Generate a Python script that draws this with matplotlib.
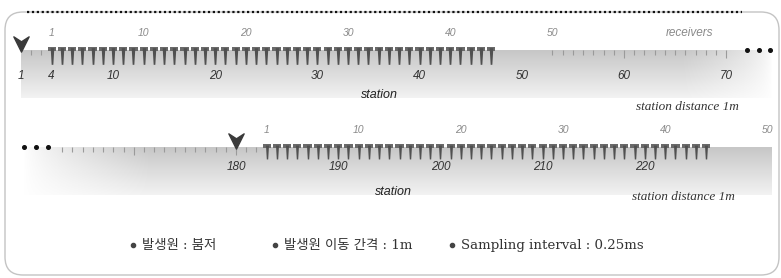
import numpy as np
import matplotlib.pyplot as plt
from matplotlib.patches import FancyBboxPatch
from matplotlib.path import Path

# layout data
recv_offset = 3            # receiver 1 sits 3 stations ahead of the source
n_active = 44              # receivers drawn as geophones

top_source = 1
top_station_labels = [1, 4, 10, 20, 30, 40, 50, 60, 70]
top_recv_labels = [1, 10, 20, 30, 40, 50]
top_minor = [2, 3] + list(range(53, 71))

bot_source = 180
bot_station_labels = [180, 190, 200, 210, 220]
bot_recv_labels = [1, 10, 20, 30, 40, 50]
bot_minor = list(range(163, 183))

notes = ["발생원 : 붐저", "발생원 이동 간격 : 1m", "Sampling interval : 0.25ms"]

PX = 10.22  # pixels per station
W, H = 781, 278

fig = plt.figure(figsize=(W / 100, H / 100), dpi=100)
ax0 = fig.add_axes([0, 0, 1, 1])
ax0.set_xlim(0, W)
ax0.set_ylim(H, 0)
ax0.axis("off")


def panel_axes(st, px):
    ax = fig.add_axes([0, 0, 1, 1])
    ax.set_xlim(st - px / PX, st + (W - px) / PX)
    ax.set_ylim(H, 0)
    ax.axis("off")
    ax.patch.set_alpha(0)
    return ax


arrow = Path([(-1, 1), (0, -1), (1, 1), (0, 0.35), (-1, 1)],
             [Path.MOVETO, Path.LINETO, Path.LINETO, Path.LINETO, Path.CLOSEPOLY])
# thin tapered spike of a geophone (top wide, bottom narrow)
spike = Path([(-0.22, 1), (0.22, 1), (0.1, -1), (-0.1, -1), (-0.22, 1)],
             [Path.MOVETO, Path.LINETO, Path.LINETO, Path.LINETO, Path.CLOSEPOLY])


def band(ax, s0, s1, y0, y1, fade_left=0.0, fade_right=0.0):
    nx, ny = 400, 60
    t = np.linspace(0, 1, ny)[:, None]
    g = 0.78 + 0.17 * t
    u = np.linspace(0, 1, nx)[None, :]
    a = np.ones((ny, nx))
    if fade_left:
        a *= np.clip(u / fade_left, 0, 1) ** 0.8
    if fade_right:
        a *= np.clip((1 - u) / fade_right, 0, 1) ** 0.6
    img = np.zeros((ny, nx, 4))
    img[..., 0] = img[..., 1] = img[..., 2] = g * np.ones((1, nx))
    img[..., 3] = a
    ax.imshow(img, extent=(s0, s1, y1, y0), aspect="auto", zorder=1,
              interpolation="bilinear")


def geophones(ax, stations, y, length=11):
    ax.bar(stations, 3.5, width=0.8, bottom=y - 3, color="#6a6a6a", zorder=4)
    ax.plot(stations, np.full(len(stations), y + length / 2), ls="none",
            marker=spike, ms=length, mew=0, color="#505050", zorder=4)


def minor_ticks(ax, stations, y):
    st = np.array(stations)
    ln = np.where(st % 10 == 0, 8, 5)
    ax.vlines(st, y, y + ln, color="#9a9a9a", lw=0.8, zorder=3)


lab = dict(fontstyle="italic", family="Liberation Sans", ha="center", va="center")

# ---- top panel
ax1 = panel_axes(1, 21)
y = 50
band(ax1, 1, 1 + 752 / PX, y, 98, fade_right=0.12)
minor_ticks(ax1, top_minor, y)
recv = np.arange(1, n_active + 1)
geophones(ax1, recv + top_source - 1 + recv_offset, y, 12)
ax1.plot([top_source], [y - 6], marker=arrow, ms=11, color="#3a3a3a", zorder=5)
for s in top_station_labels:
    ax1.text(s, 76, str(s), fontsize=8.5, color="#333333", **lab)
for r in top_recv_labels:
    ax1.text(r + top_source - 1 + recv_offset, 33, str(r), fontsize=7.5,
             color="#8a8a8a", **lab)
ax1.text(66.4, 33, "receivers", fontsize=8.5, color="#8a8a8a", **lab)
ax1.plot(1 + np.array([726, 738, 749]) / PX, [y, y, y], "o", ms=2.6,
         color="#111111", zorder=5)
ax1.text(36.1, 95, "station", fontsize=9, color="#222222", **lab)
ax1.text(66.2, 107, "station distance 1m", fontsize=9.5, fontstyle="italic",
         family="Liberation Serif", color="#333333", ha="center", va="center")

# ---- bottom panel
ax2 = panel_axes(bot_source, 236)
y = 147
band(ax2, bot_source - 213 / PX, bot_source + 536 / PX, y, 195, fade_left=0.17)
minor_ticks(ax2, bot_minor, y)
geophones(ax2, recv + bot_source - 1 + recv_offset, y, 10)
ax2.plot([bot_source], [y - 6], marker=arrow, ms=11, color="#3a3a3a", zorder=5)
for s in bot_station_labels:
    ax2.text(s, 167, str(s), fontsize=8.5, color="#333333", **lab)
for r in bot_recv_labels:
    ax2.text(r + bot_source - 1 + recv_offset, 130, str(r), fontsize=7.5,
             color="#8a8a8a", **lab)
ax2.plot(bot_source + np.array([-212, -200, -188]) / PX, [y, y, y], "o", ms=2.6,
         color="#111111", zorder=5)
ax2.text(bot_source + 157 / PX, 192, "station", fontsize=9, color="#222222", **lab)
ax2.text(bot_source + 447 / PX, 197, "station distance 1m", fontsize=9.5,
         fontstyle="italic", family="Liberation Serif", color="#333333",
         ha="center", va="center")

# ---- frame and notes
frame = FancyBboxPatch((5, 12), 774, 263, boxstyle="round,pad=0,rounding_size=18",
                       fc="none", ec="#c4c4c4", lw=1.0, zorder=0)
ax0.add_patch(frame)
ax0.plot([27, 742], [12, 12], color="#111111", lw=1.6, ls=(0, (1, 1.2)), zorder=6)

note_x = [133, 275, 452]
for x, t in zip(note_x, notes):
    ax0.plot([x], [245], "o", ms=3, color="#444444")
    ax0.text(x + 9, 245, t, fontsize=9.6, color="#333333", va="center", ha="left",
             family=["DejaVu Serif", "Noto Sans CJK KR"])

fig.savefig("out.png", dpi=100)
